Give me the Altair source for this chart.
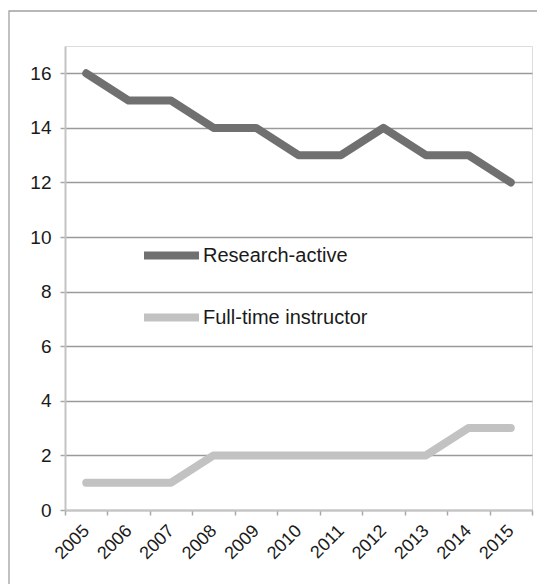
import altair as alt
import pandas as pd

years = ["2005", "2006", "2007", "2008", "2009", "2010", "2011", "2012", "2013", "2014", "2015"]
research_active = [16, 15, 15, 14, 14, 13, 13, 14, 13, 13, 12]
full_time = [1, 1, 1, 2, 2, 2, 2, 2, 2, 3, 3]
series_names = ["Research-active", "Full-time instructor"]
series_colors = ["#707070", "#c2c2c2"]
y_ticks = [0, 2, 4, 6, 8, 10, 12, 14, 16]

rows = []
for name, vals in zip(series_names, [research_active, full_time]):
    for yr, v in zip(years, vals):
        rows.append({"Year": yr, "Value": v, "Series": name})
df = pd.DataFrame(rows)

FONT = "Liberation Sans"

lines = alt.Chart(df).mark_line(strokeWidth=8, strokeCap="round", strokeJoin="round").encode(
    x=alt.X("Year:O", sort=years, bandPosition=0.5,
            scale=alt.Scale(type="band", paddingInner=0, paddingOuter=0),
            axis=alt.Axis(title=None, labelAngle=-45, labelAlign="right", labelBaseline="middle",
                          tickBand="extent", grid=False, tickSize=5, labelPadding=13,
                          domainColor="#c4c4c4", domainWidth=2, tickColor="#a8a8a8", tickWidth=1.5,
                          labelFont=FONT, labelFontSize=18, labelColor="#1a1a1a")),
    y=alt.Y("Value:Q", scale=alt.Scale(domain=[0, 17], nice=False, zero=True),
            axis=alt.Axis(title=None, values=y_ticks, grid=True, gridColor="#9a9a9a", gridWidth=1.4,
                          tickSize=5, labelPadding=9, domainColor="#c4c4c4", domainWidth=2,
                          tickColor="#a8a8a8", tickWidth=1.5,
                          labelFont=FONT, labelFontSize=19, labelColor="#1a1a1a")),
    color=alt.Color("Series:N", sort=series_names,
                    scale=alt.Scale(domain=series_names, range=series_colors),
                    legend=alt.Legend(title=None, orient="none", legendX=75, legendY=178,
                                      symbolType="stroke", symbolSize=3025, symbolStrokeWidth=8,
                                      rowPadding=14, labelOffset=0, labelLimit=400,
                                      labelFont=FONT, labelFontSize=20, labelColor="#1a1a1a")),
    order=alt.Order("Year:O"),
)

frame = alt.Chart(alt.Data(values=[{"k": 1}])).mark_rect(
    fill="transparent", stroke="#a0a0a0", strokeWidth=1.3, clip=False
).encode(
    x=alt.value(-56), x2=alt.value(700), y=alt.value(-35), y2=alt.value(800)
)

chart = alt.layer(frame, lines).properties(
    width=467, height=464,
    autosize=alt.AutoSizeParams(type="none"),
    padding={"left": 65, "top": 46, "right": 5, "bottom": 74},
).configure_view(stroke=None).configure(background="white")

chart.save("out.html", embed_options={"renderer": "svg", "actions": False})
